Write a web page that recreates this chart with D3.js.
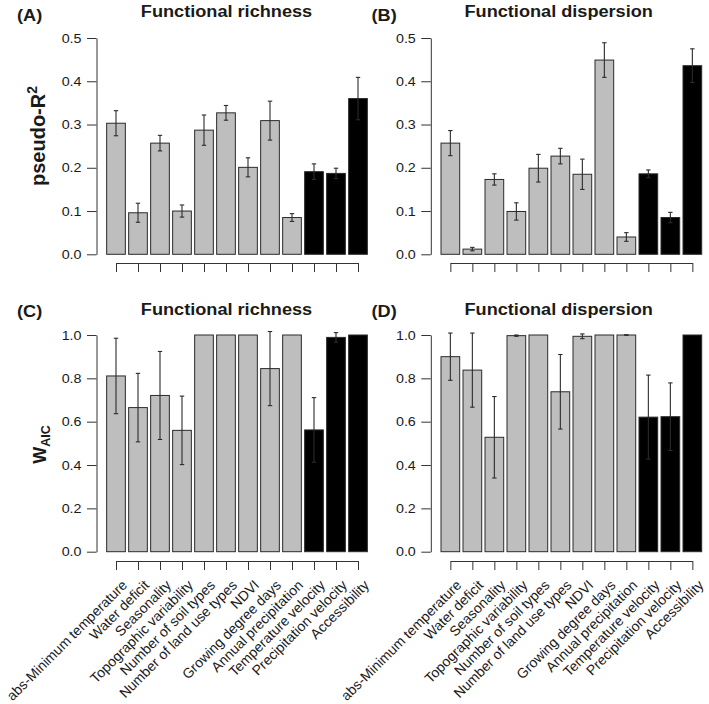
<!DOCTYPE html>
<html>
<head>
<meta charset="utf-8">
<script src="https://cdn.jsdelivr.net/npm/d3@7"></script>
<style>
  html, body { margin: 0; padding: 0; background: #fff; }
  svg { display: block; }
  text { font-family: "Liberation Sans", Arial, sans-serif; fill: #1a1a1a; }
</style>
</head>
<body>
<svg id="chart" width="709" height="704"></svg>
<script>
// ---------------- data ----------------
const categories = [
  "abs-Minimum temperature", "Water deficit", "Seasonality", "Topographic variability",
  "Number of soil types", "Number of land use types", "NDVI", "Growing degree days",
  "Annual precipitation", "Temperature velocity", "Precipitation velocity", "Accessibility"
];
const darkCategories = ["Temperature velocity", "Precipitation velocity", "Accessibility"];

const richnessR2     = [0.303, 0.096, 0.257, 0.100, 0.287, 0.327, 0.201, 0.309, 0.085, 0.191, 0.187, 0.360];
const richnessR2Err  = [0.029, 0.022, 0.018, 0.014, 0.035, 0.017, 0.022, 0.045, 0.009, 0.018, 0.012, 0.049];
const dispersionR2    = [0.257, 0.012, 0.173, 0.099, 0.199, 0.227, 0.185, 0.449, 0.040, 0.186, 0.085, 0.436];
const dispersionR2Err = [0.029, 0.004, 0.013, 0.020, 0.032, 0.018, 0.035, 0.040, 0.010, 0.009, 0.012, 0.039];
const richnessW      = [0.811, 0.665, 0.721, 0.560, 1.000, 1.000, 1.000, 0.845, 1.000, 0.562, 0.989, 1.000];
const richnessWErr   = [0.174, 0.158, 0.203, 0.158, 0.000, 0.000, 0.000, 0.171, 0.000, 0.149, 0.022, 0.000];
const dispersionW    = [0.900, 0.838, 0.528, 0.997, 1.000, 0.738, 0.994, 1.000, 1.000, 0.621, 0.623, 1.000];
const dispersionWErr = [0.109, 0.171, 0.188, 0.003, 0.000, 0.172, 0.011, 0.000, 0.001, 0.194, 0.156, 0.000];

const r2Ticks = [0.0, 0.1, 0.2, 0.3, 0.4, 0.5];
const wTicks  = [0.0, 0.2, 0.4, 0.6, 0.8, 1.0];

const panelLetters = ["(A)", "(B)", "(C)", "(D)"];
const panelTitles  = ["Functional richness", "Functional dispersion", "Functional richness", "Functional dispersion"];

// ---------------- layout ----------------
const SX = 1.1; // horizontal stretch of text seen in reference
const svg = d3.select("#chart");

const colLeft = [105.0, 439.35];      // band range start per column
const step = 22;
const rowY = [
  { y0: 254.3, yTop: 38.0, max: 0.5, ticks: r2Ticks, xAxisY: 263, titleY: 17.2, letterY: 21.0 },
  { y0: 551.7, yTop: 335.0, max: 1.0, ticks: wTicks, xAxisY: 561, titleY: 315.2, letterY: 316.5 }
];
const yAxisX = [96.5, 430.8];
const titleCX = [226.5, 558.7];
const letterX = [17, 371.5];

const color = d3.scaleOrdinal()
  .domain(["light", "dark"])
  .range(["#bebebe", "#000000"]);

const panels = [
  { row: 0, col: 0, values: richnessR2,   errs: richnessR2Err },
  { row: 0, col: 1, values: dispersionR2, errs: dispersionR2Err },
  { row: 1, col: 0, values: richnessW,    errs: richnessWErr },
  { row: 1, col: 1, values: dispersionW,  errs: dispersionWErr }
];

const fmt = d3.format(".1f");

function stretchedText(g, x, y) {
  return g.append("text")
    .attr("transform", `translate(${x},${y}) scale(${SX},1)`);
}

panels.forEach((p, pi) => {
  const R = rowY[p.row];
  const g = svg.append("g");

  const x = d3.scaleBand()
    .domain(categories)
    .range([colLeft[p.col], colLeft[p.col] + step * categories.length])
    .paddingInner(0.15)
    .paddingOuter(0.075);

  const y = d3.scaleLinear().domain([0, R.max]).range([R.y0, R.yTop]);

  const data = categories.map((c, i) => ({ c, v: p.values[i], e: p.errs[i] }));

  // bars
  g.selectAll("rect.bar").data(data).enter().append("rect")
    .attr("class", "bar")
    .attr("x", d => x(d.c))
    .attr("width", x.bandwidth())
    .attr("y", d => y(d.v))
    .attr("height", d => y(0) - y(d.v))
    .attr("fill", d => color(darkCategories.includes(d.c) ? "dark" : "light"))
    .attr("stroke", "#2b2b2b")
    .attr("stroke-width", 1);

  // error bars
  const eb = g.selectAll("g.err").data(data.filter(d => d.e > 0)).enter().append("g")
    .attr("class", "err")
    .attr("stroke", "#2b2b2b")
    .attr("stroke-width", 1.1);
  eb.append("line")
    .attr("x1", d => x(d.c) + x.bandwidth() / 2)
    .attr("x2", d => x(d.c) + x.bandwidth() / 2)
    .attr("y1", d => y(d.v - d.e))
    .attr("y2", d => y(d.v + d.e));
  [-1, 1].forEach(s => {
    eb.append("line")
      .attr("x1", d => x(d.c) + x.bandwidth() / 2 - 2.2)
      .attr("x2", d => x(d.c) + x.bandwidth() / 2 + 2.2)
      .attr("y1", d => y(d.v + s * d.e))
      .attr("y2", d => y(d.v + s * d.e));
  });

  // y axis
  const yAxis = d3.axisLeft(y).tickValues(R.ticks).tickFormat(() => "").tickSize(9.5).tickSizeOuter(0);
  const ya = g.append("g").attr("transform", `translate(${yAxisX[p.col]},0)`).call(yAxis);
  ya.selectAll("path, line").attr("stroke", "#333").attr("stroke-width", 1);
  R.ticks.forEach(t => {
    stretchedText(g, yAxisX[p.col] - 15, y(t) + 4.7)
      .attr("text-anchor", "end")
      .attr("font-size", 13)
      .text(fmt(t));
  });

  // x axis (ticks at bar centres)
  const xc = d3.scalePoint()
    .domain(categories)
    .range([x(categories[0]) + x.bandwidth() / 2, x(categories[categories.length - 1]) + x.bandwidth() / 2]);
  const xAxis = d3.axisBottom(xc).tickFormat(() => "").tickSize(9).tickSizeOuter(0);
  const xa = g.append("g").attr("transform", `translate(0,${R.xAxisY})`).call(xAxis);
  xa.selectAll("path, line").attr("stroke", "#333").attr("stroke-width", 1);

  // rotated category labels in bottom row only
  if (p.row === 1) {
    categories.forEach(c => {
      g.append("text")
        .attr("transform", `translate(${xc(c) + 12},${R.xAxisY + 25}) rotate(-45)`)
        .attr("text-anchor", "end")
        .attr("font-size", 14)
        .text(c);
    });
  }

  // titles
  stretchedText(g, titleCX[p.col], R.titleY)
    .attr("text-anchor", "middle")
    .attr("font-size", 16.5)
    .attr("font-weight", "bold")
    .text(panelTitles[pi]);
  stretchedText(g, letterX[p.col], R.letterY)
    .attr("text-anchor", "start")
    .attr("font-size", 16.5)
    .attr("font-weight", "bold")
    .text(panelLetters[pi]);
});

// y-axis titles
const yl1 = svg.append("text")
  .attr("transform", "translate(44.5,136) rotate(-90)")
  .attr("text-anchor", "middle")
  .attr("font-size", 20)
  .attr("font-weight", "bold");
yl1.append("tspan").text("pseudo-R");
yl1.append("tspan").attr("font-size", 14).attr("dy", -8).text("2");

const yl2 = svg.append("text")
  .attr("transform", "translate(46,444.5) rotate(-90)")
  .attr("text-anchor", "middle")
  .attr("font-size", 18)
  .attr("font-weight", "bold");
yl2.append("tspan").text("W");
yl2.append("tspan").attr("font-size", 12.5).attr("dy", 4).text("AIC");
</script>
</body>
</html>
